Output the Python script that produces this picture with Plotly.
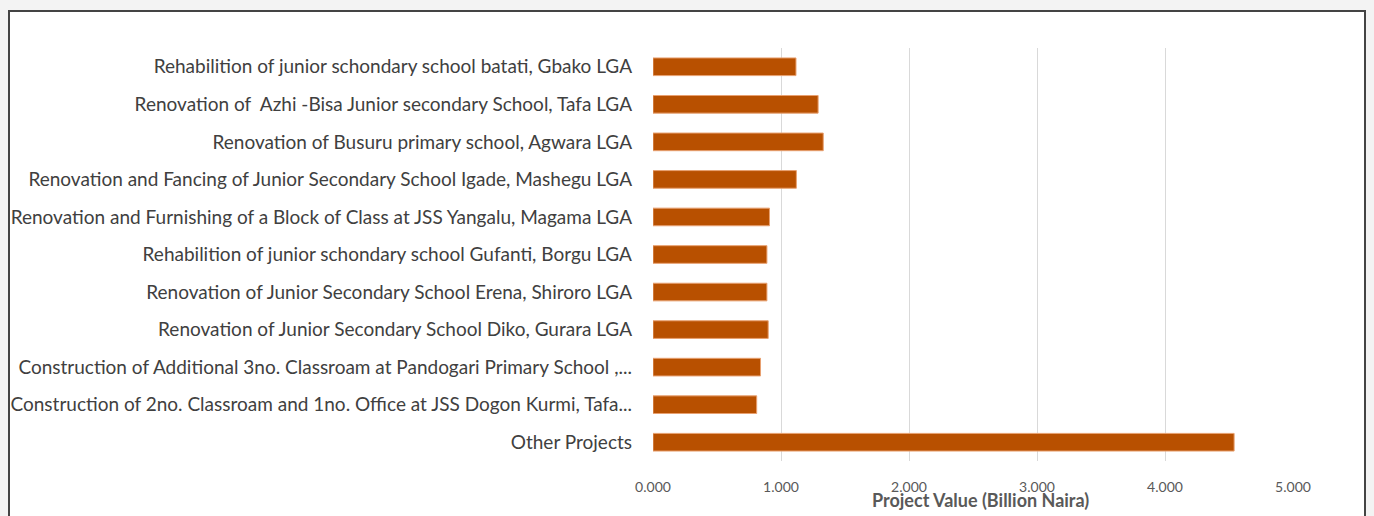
import plotly.graph_objects as go

# project names, top to bottom as shown
projects = [
    "Rehabilition of junior schondary school batati, Gbako LGA",
    "Renovation of  Azhi -Bisa Junior secondary School, Tafa LGA",
    "Renovation of Busuru primary school, Agwara LGA",
    "Renovation and Fancing of Junior Secondary School Igade, Mashegu LGA",
    "Renovation and Furnishing of a Block of Class at JSS Yangalu, Magama LGA",
    "Rehabilition of junior schondary school Gufanti, Borgu LGA",
    "Renovation of Junior Secondary School Erena, Shiroro LGA",
    "Renovation of Junior Secondary School Diko, Gurara LGA",
    "Construction of Additional 3no. Classroam at Pandogari Primary School ,...",
    "Construction of 2no. Classroam and 1no. Office at JSS Dogon Kurmi, Tafa...",
    "Other Projects",
]
values = [1.117, 1.290, 1.330, 1.120, 0.910, 0.890, 0.890, 0.900, 0.840, 0.810, 4.540]

x_ticks = [0, 1, 2, 3, 4, 5]
x_tick_text = ["0.000", "1.000", "2.000", "3.000", "4.000", "5.000"]
x_title = "Project Value (Billion Naira)"

fig = go.Figure()
fig.add_trace(go.Bar(
    y=projects,
    x=values,
    orientation="h",
    width=0.47,
    marker=dict(color="#B85000", line=dict(color="#E8A070", width=1)),
    hoverinfo="x+y",
))

fig.update_layout(
    width=1374,
    height=516,
    margin=dict(l=653, r=81, t=48, b=55),
    paper_bgcolor="#F3F3F3",
    plot_bgcolor="white",
    font=dict(family="Lato", size=19, color="#404040"),
    showlegend=False,
    shapes=[
        # white card with dark frame
        dict(type="rect", xref="paper", yref="paper", layer="below",
             x0=-644 / 640, x1=1 + 72 / 640,
             y0=-60 / 413, y1=1 + 37 / 413,
             fillcolor="white", line=dict(color="#444444", width=2)),
    ],
    # axis title sits close under the tick labels, like the original
    annotations=[
        dict(text="<b>" + x_title + "</b>", xref="paper", yref="paper",
             x=0.512, y=-39 / 413, xanchor="center", yanchor="middle",
             showarrow=False,
             font=dict(family="Lato", size=18, color="#595959")),
    ],
    xaxis=dict(
        range=[0, 5],
        tickvals=x_ticks,
        ticktext=x_tick_text,
        showgrid=True,
        gridcolor="#D9D9D9",
        gridwidth=1,
        zeroline=False,
        showline=False,
        automargin=False,
        tickfont=dict(family="Lato", size=14, color="#595959"),
        ticks="",
        ticklabelstandoff=16,
        fixedrange=True,
    ),
    yaxis=dict(
        autorange="reversed",
        showgrid=False,
        zeroline=False,
        showline=False,
        automargin=False,
        ticks="",
        ticklabelstandoff=20,
        tickfont=dict(family="Lato", size=19, color="#404040"),
        fixedrange=True,
    ),
)

fig.write_html("out.html", config={"displayModeBar": False},
               post_script="document.body.style.margin='0';")
